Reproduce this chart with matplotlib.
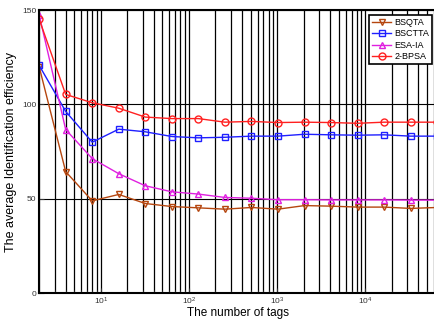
import numpy as np
import matplotlib.pyplot as plt

plt.rcParams['font.family'] = ['Liberation Sans', 'DejaVu Sans']

# number of tags (2^1 .. 2^16)
tags = [2, 4, 8, 16, 32, 64, 128, 256, 512, 1024, 2048, 4096, 8192,
        16384, 32768, 65536]

bsqta = [120.0, 64.4, 48.9, 52.3, 47.5, 45.9, 45.2, 44.5, 45.4, 44.5,
         46.4, 46.1, 45.6, 45.6, 44.9, 45.4]
bsctta = [120.7, 96.3, 80.0, 86.9, 85.5, 83.0, 82.3, 82.6, 83.2, 83.2,
          84.2, 83.9, 83.7, 83.9, 83.2, 83.2]
esa_ia = [147.5, 86.7, 71.3, 63.3, 56.9, 53.7, 52.5, 50.7, 50.3, 49.5,
          49.5, 49.4, 49.4, 49.4, 49.3, 49.3]
bpsa2 = [145.2, 105.3, 100.9, 98.0, 93.3, 92.5, 92.5, 90.6, 91.0, 90.4,
         90.6, 90.4, 90.0, 90.6, 90.6, 90.6]

names = ['BSQTA', 'BSCTTA', 'ESA-IA', '2-BPSA']
series = [bsqta, bsctta, esa_ia, bpsa2]
colors = ['#b5460f', '#1f1fff', '#e020e0', '#ff2020']
markers = ['v', 's', '^', 'o']

fig = plt.figure(figsize=(4.35, 3.25), dpi=100)
ax = fig.add_axes([0.09, 0.098, 0.915, 0.871])

for name, vals, c, m in zip(names, series, colors, markers):
    ax.plot(tags, vals, color=c, marker=m, markerfacecolor='none',
            markeredgecolor=c, markersize=5, linewidth=1, label=name)

ax.set_xscale('log')
ax.set_xlim(2, 65536)
ax.set_ylim(0, 150)
ax.set_yticks([0, 50, 100, 150])

ax.grid(True, which='major', axis='y', color='black', linewidth=0.8)
ax.grid(True, which='both', axis='x', color='black', linewidth=0.9)
ax.set_axisbelow(True)

ax.tick_params(which='both', direction='in', labelsize=6, colors='#333333',
               pad=2)
for s in ax.spines.values():
    s.set_linewidth(1.5)

ax.set_xlabel('The number of tags', fontsize=8.5, labelpad=0)
ax.set_ylabel('The average Identification efficiency', fontsize=9,
              labelpad=4)

leg = ax.legend(loc='upper right', fontsize=6.5, fancybox=False,
                framealpha=1, edgecolor='black', borderpad=0.3,
                labelspacing=0.25, handlelength=2.2, handletextpad=0.3,
                borderaxespad=0.6)
leg.get_frame().set_linewidth(1.2)

fig.savefig('out.png', dpi=100)
